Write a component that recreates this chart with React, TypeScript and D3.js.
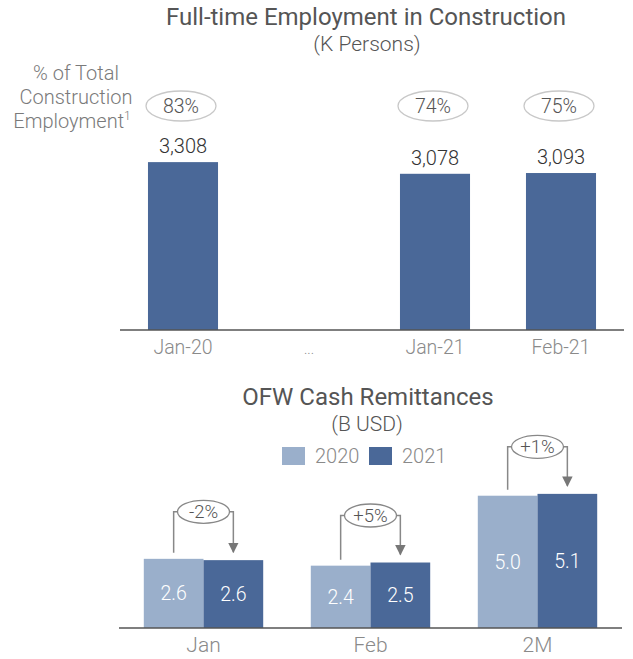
import React from "react";
import * as d3 from "d3";

// top chart: full-time employment in construction
const empCats = ["Jan-20", "...", "Jan-21", "Feb-21"];
const empValues = [3308, null, 3078, 3093];
const empShare = [83, null, 74, 75];

// bottom chart: OFW cash remittances
const remCats = ["Jan", "Feb", "2M"];
const remYears = ["2020", "2021"];
const rem2020 = [2.63, 2.37, 5.03];
const rem2021 = [2.58, 2.49, 5.1];
const remChange = ["-2%", "+5%", "+1%"];

const dark = "#4a6898";
const light = "#9aafcb";
const txt = "#555";
const lbl = "#8a8a8a";
const font = "Roboto, 'Liberation Sans', sans-serif";

export default function App() {
  const W = 633, H = 659;

  const x1 = d3.scaleBand().domain(empCats).range([120, 624]).paddingInner(0.444).paddingOuter(0.222);
  const y1 = d3.scaleLinear().domain([0, 4000]).range([330, 127]);

  const x2 = d3.scaleBand().domain(remCats).range([120, 621]).paddingInner(0.285).paddingOuter(0.1425);
  const xs = d3.scaleBand().domain(remYears).range([0, x2.bandwidth()]);
  const y2 = d3.scaleLinear().domain([0, 6]).range([628, 628 - 6 * 26.3]);
  const fmt = d3.format(",");

  return (
    <svg width={W} height={H} style={{ position: "absolute", left: 0, top: 0 }} fontFamily={font}>
      <rect width={W} height={H} fill="#fff" />

      {/* ---- top ---- */}
      <text x={366} y={25} textAnchor="middle" fontSize={24} fill={txt}>Full-time Employment in Construction</text>
      <text x={367} y={51} textAnchor="middle" fontSize={21} fontWeight={300} fill={txt}>(K Persons)</text>

      <g fontSize={20} fontWeight={300} fill="#7a7a7a" textAnchor="middle">
        <text x={76} y={80}>% of Total</text>
        <text x={76} y={104}>Construction</text>
        <text x={72} y={128}>Employment<tspan fontSize={12} dy={-8}>1</tspan></text>
      </g>

      {empCats.map((c, i) => {
        const v = empValues[i];
        const cx = x1(c)! + x1.bandwidth() / 2;
        if (v == null) return null;
        return (
          <g key={c}>
            <rect x={x1(c)} y={y1(v)} width={x1.bandwidth()} height={y1(0) - y1(v)} fill={dark} />
            <text x={cx} y={y1(v) - 9} textAnchor="middle" fontSize={20} fontWeight={300} fill="#333">{fmt(v)}</text>
            <ellipse cx={cx - 2} cy={106} rx={35} ry={15} fill="none" stroke="#c8c8c8" strokeWidth={1.3} />
            <text x={cx - 2} y={113} textAnchor="middle" fontSize={19.5} fontWeight={300} fill={txt}>{empShare[i]}%</text>
          </g>
        );
      })}
      <line x1={120} x2={624} y1={330} y2={330} stroke="#555" strokeWidth={1.5} />
      {empCats.map((c) => (
        <text key={c} x={x1(c)! + x1.bandwidth() / 2} y={354} textAnchor="middle" fontSize={c === "..." ? 14 : 19.5} fontWeight={300} fill={lbl}>{c}</text>
      ))}

      {/* ---- bottom ---- */}
      <text x={368} y={405} textAnchor="middle" fontSize={24} fill={txt}>OFW Cash Remittances</text>
      <text x={367} y={431} textAnchor="middle" fontSize={21} fontWeight={300} fill={txt}>(B USD)</text>
      <rect x={282} y={447} width={23} height={18} fill={light} />
      <text x={315} y={463} fontSize={20} fontWeight={300} fill={lbl}>2020</text>
      <rect x={369} y={447} width={23} height={18} fill={dark} />
      <text x={402} y={463} fontSize={20} fontWeight={300} fill={lbl}>2021</text>

      <defs>
        <marker id="arr" viewBox="0 0 10 10" refX={9} refY={5} markerWidth={7} markerHeight={7} orient="auto">
          <path d="M0,0 L10,5 L0,10 z" fill="#777" />
        </marker>
      </defs>

      {remCats.map((c, i) => {
        const gx = x2(c)!;
        const vals = [rem2020[i], rem2021[i]];
        const lx = gx + xs("2020")! + xs.bandwidth() / 2;
        const rx = gx + xs("2021")! + xs.bandwidth() / 2;
        const cx = gx + x2.bandwidth() / 2;
        const topMin = Math.min(y2(vals[0]), y2(vals[1]));
        const ey = topMin - 47;
        return (
          <g key={c}>
            {remYears.map((yr, j) => (
              <g key={yr}>
                <rect x={gx + xs(yr)!} y={y2(vals[j])} width={xs.bandwidth()} height={y2(0) - y2(vals[j])} fill={j === 0 ? light : dark} />
                <text x={gx + xs(yr)! + xs.bandwidth() / 2} y={(y2(vals[j]) + y2(0)) / 2 + 7} textAnchor="middle" fontSize={19.5} fontWeight={300} fill="#fff">{vals[j].toFixed(1)}</text>
              </g>
            ))}
            <path d={`M${lx},${y2(vals[0]) - 6} V${ey} H${cx - 26}`} fill="none" stroke="#888" strokeWidth={1.5} />
            <path d={`M${cx + 26},${ey} H${rx} V${y2(vals[1]) - 8}`} fill="none" stroke="#888" strokeWidth={1.5} markerEnd="url(#arr)" />
            <ellipse cx={cx} cy={ey} rx={26} ry={11.5} fill="#fff" stroke="#888" strokeWidth={1.3} />
            <text x={cx} y={ey + 6.5} textAnchor="middle" fontSize={18.5} fontWeight={300} fill={txt}>{remChange[i]}</text>
            <text x={cx} y={652} textAnchor="middle" fontSize={21} fontWeight={300} fill={lbl}>{c}</text>
          </g>
        );
      })}
      <line x1={119} x2={622} y1={628} y2={628} stroke="#555" strokeWidth={1.5} />
    </svg>
  );
}
